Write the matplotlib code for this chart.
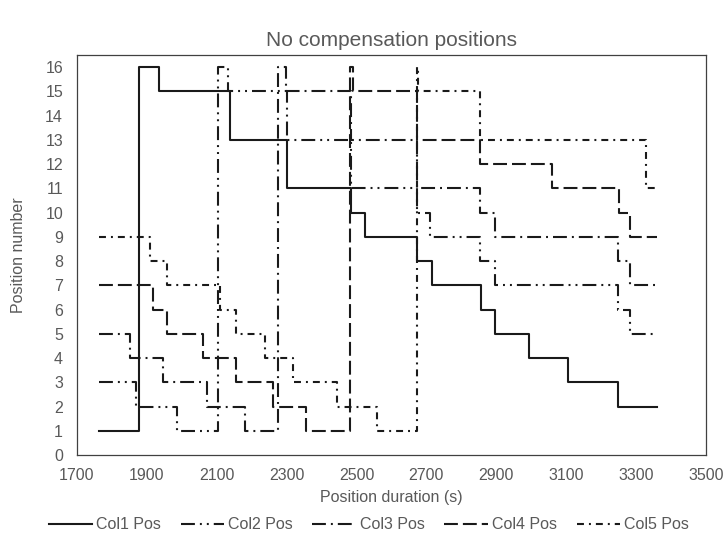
import matplotlib
matplotlib.use("Agg")
import matplotlib.pyplot as plt

plt.rcParams['font.family'] = ['Liberation Sans', 'DejaVu Sans']
plt.rcParams['lines.scale_dashes'] = False

# change times (s) and position numbers
col1_t = [1762, 1878, 1935, 2138, 2300, 2483, 2524, 2674, 2715, 2855, 2896, 2994, 3104, 3249, 3359]
col1_pos = [1, 16, 15, 13, 11, 10, 9, 8, 7, 6, 5, 4, 3, 2, 2]

col2_t = [1762, 1870, 1987, 2104, 2133, 2300, 2483, 2672, 2710, 2853, 2896, 3249, 3283, 3359]
col2_pos = [3, 2, 1, 16, 15, 13, 11, 10, 9, 8, 7, 6, 5, 5]

col3_t = [1762, 1852, 1947, 2071, 2181, 2276, 2299, 2483, 2672, 2853, 2896, 3249, 3283, 3359]
col3_pos = [5, 4, 3, 2, 1, 16, 15, 13, 11, 10, 9, 8, 7, 7]

col4_t = [1762, 1917, 1957, 2062, 2155, 2260, 2355, 2481, 2491, 2672, 2853, 3058, 3251, 3283, 3359]
col4_pos = [7, 6, 5, 4, 3, 2, 1, 16, 15, 13, 12, 11, 10, 9, 9]

col5_t = [1762, 1910, 1957, 2110, 2155, 2238, 2319, 2443, 2558, 2672, 2677, 2853, 3329, 3359]
col5_pos = [9, 8, 7, 6, 5, 4, 3, 2, 1, 16, 15, 13, 11, 11]

labels = ['Col1 Pos', 'Col2 Pos', 'Col3 Pos', 'Col4 Pos', 'Col5 Pos']

x_ticks = list(range(1700, 3501, 200))
y_ticks = list(range(0, 17))

# dash patterns in points (long dash-dot-dot, long dash-dot, long dash, dash-dot)
styles = [
    dict(linestyle='-'),
    dict(dashes=(10, 3.6, 1.4, 3.6, 1.4, 3.6)),
    dict(dashes=(10, 3.6, 1.4, 3.6)),
    dict(dashes=(10, 3.6)),
    dict(dashes=(5, 3.6, 1.4, 3.6)),
]

grey = '#595959'
line_col = '#1a1a1a'

fig = plt.figure(figsize=(7.27, 5.35), dpi=100)
ax = fig.add_axes([0.1059, 0.1495, 0.8652, 0.7477])

series = [(col1_t, col1_pos), (col2_t, col2_pos), (col3_t, col3_pos),
          (col4_t, col4_pos), (col5_t, col5_pos)]
for (t, p), lab, st in zip(series, labels, styles):
    ax.plot(t, p, drawstyle='steps-post', color=line_col, lw=1.5,
            label=lab, **st)

ax.set_xlim(1700, 3500)
ax.set_ylim(0, 16.5)
ax.set_xticks(x_ticks)
ax.set_yticks(y_ticks)
ax.tick_params(length=0, labelsize=11.5, labelcolor=grey)
ax.tick_params(axis='y', pad=10)
ax.tick_params(axis='x', pad=9)

for s in ax.spines.values():
    s.set_color('#404040')
    s.set_linewidth(0.9)

fig.text(0.538, 0.925, 'No compensation positions', ha='center', va='center',
         fontsize=15, color=grey)
fig.text(0.538, 0.071, 'Position duration (s)', ha='center', va='center',
         fontsize=11.5, color=grey)
fig.text(0.026, 0.523, 'Position number', ha='center', va='center',
         rotation=90, fontsize=11.5, color=grey)

leg = fig.legend(loc='center', bbox_to_anchor=(0.507, 0.019), ncol=5,
                 frameon=False, fontsize=11.5, handlelength=2.7,
                 handletextpad=0.25, columnspacing=1.25)
for txt in leg.get_texts():
    txt.set_color(grey)

fig.savefig('out.png', dpi=100)
